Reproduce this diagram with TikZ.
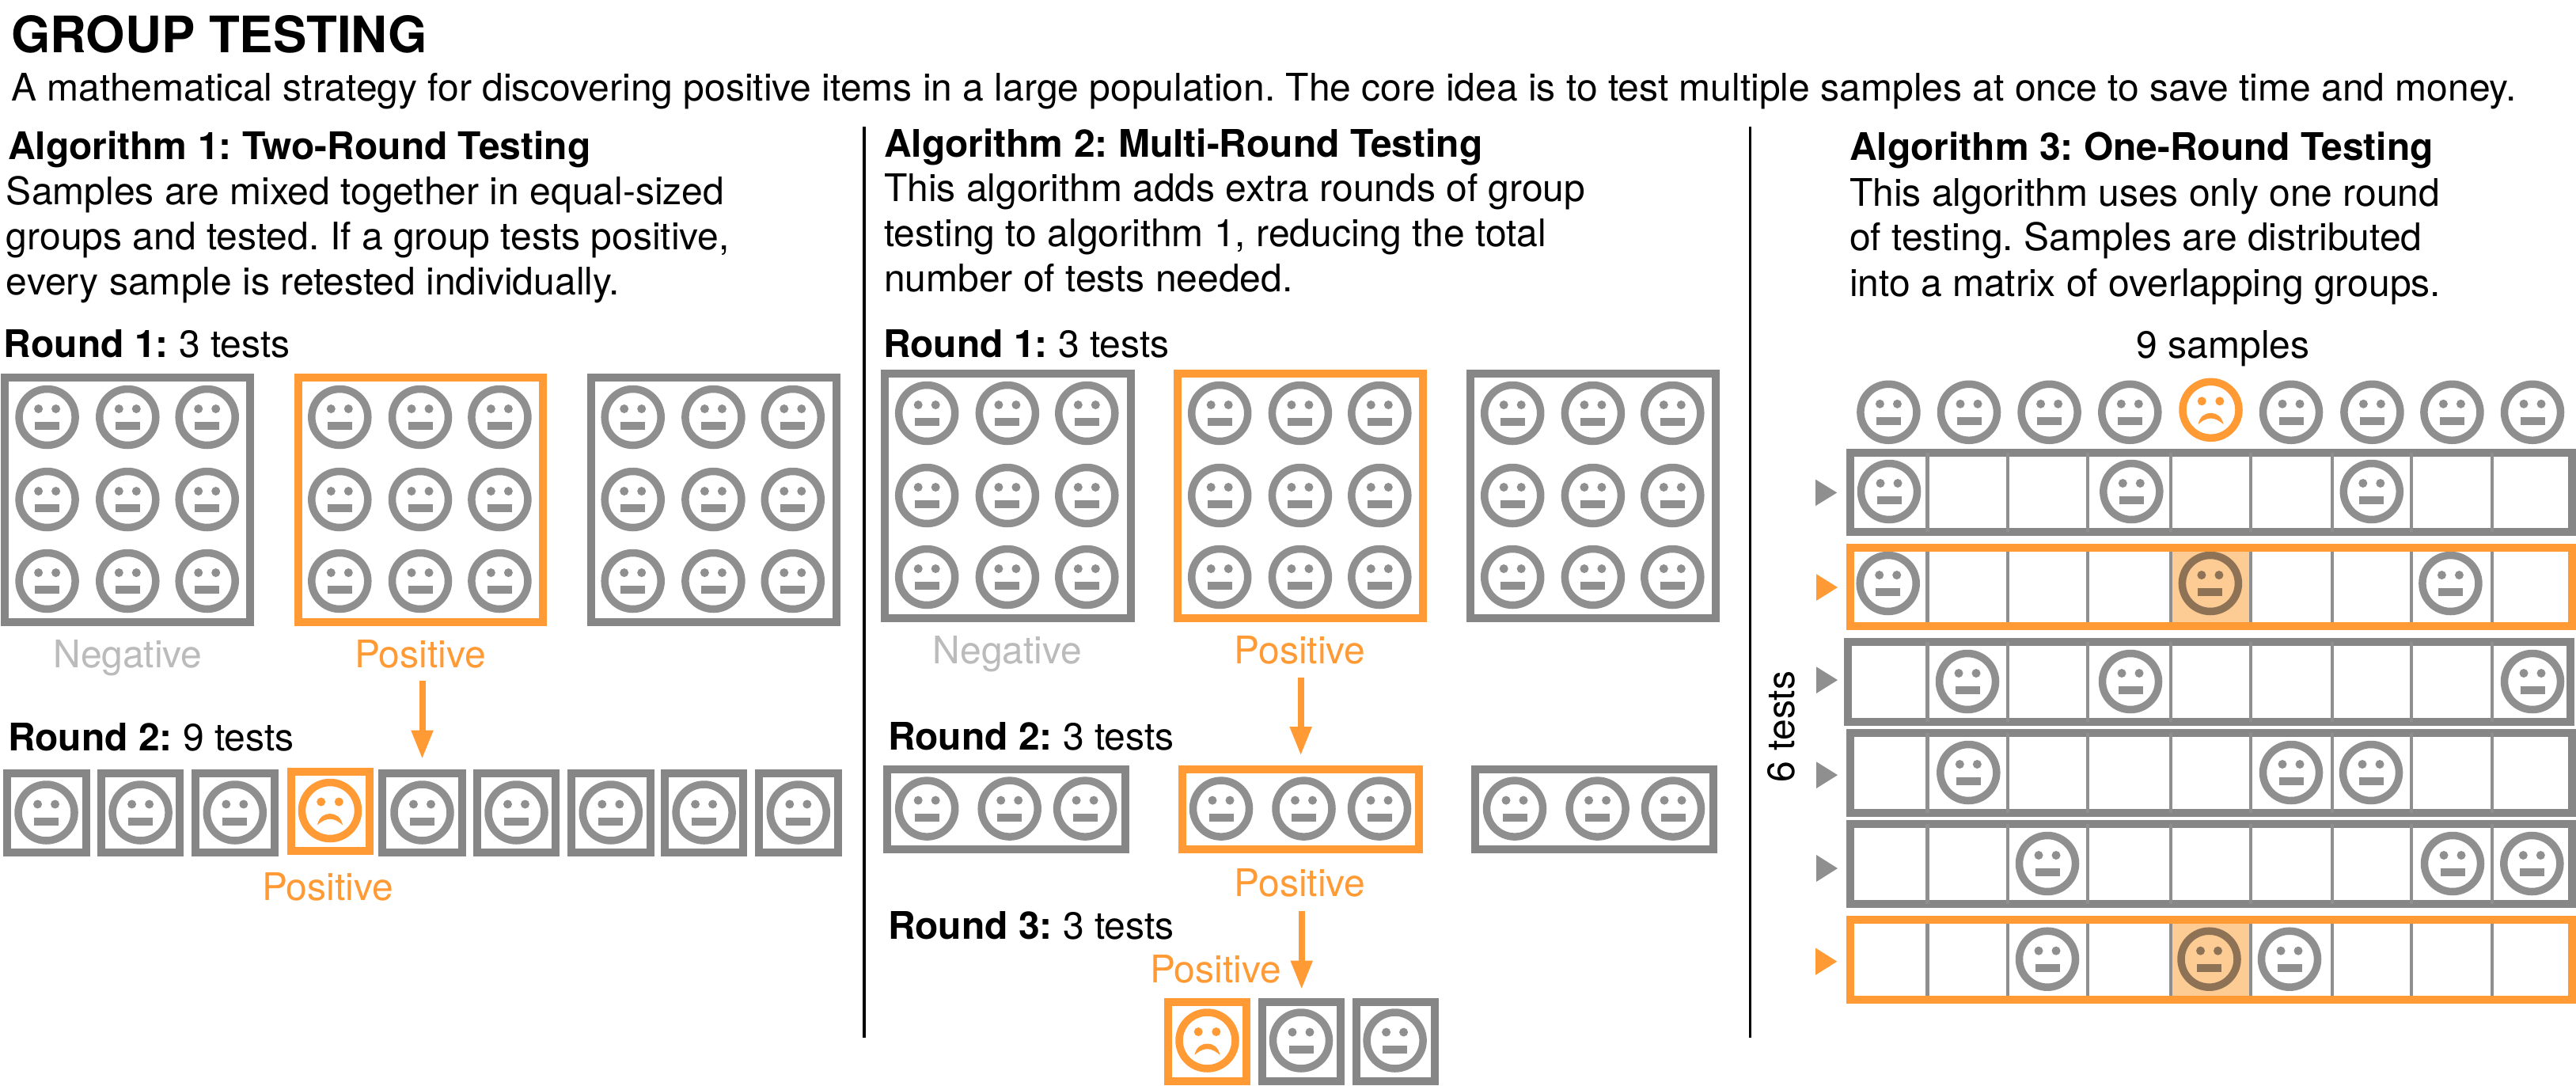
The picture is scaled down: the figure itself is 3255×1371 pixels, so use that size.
\documentclass[tikz,border=0pt]{standalone}
\usepackage{fontspec}
\setmainfont{TeX Gyre Heros}
\usetikzlibrary{arrows.meta}
\definecolor{fgray}{HTML}{8F8F8F}
\definecolor{boxgray}{HTML}{868686}
\definecolor{forange}{HTML}{FF9A35}
\definecolor{fdark}{HTML}{8E7255}
\definecolor{cellor}{HTML}{FDCB94}
\definecolor{neglabel}{HTML}{BBBBBB}
\frenchspacing
\tikzset{
  txt/.style={anchor=base west,inner sep=0pt,outer sep=0pt,font=\fontsize{48}{57}\selectfont},
  mid/.style={anchor=base,inner sep=0pt,outer sep=0pt,font=\fontsize{48}{57}\selectfont},
  frm/.style={draw=#1,line width=10pt,shape=rectangle,inner sep=0pt,fill=white},
  arr/.style={forange,line width=8pt,-{Triangle[length=36.5pt,width=26pt]}},
  rule/.style={black,line width=3.2pt},
  cellrule/.style={fgray,line width=4.5pt}
}
% name, colour, left, top, right, bottom (outer edges)
\newcommand{\fr}[6]{\node[frm=#2,minimum width={(#5-#3-10)*1pt},minimum height={(#6-#4-10)*1pt}] (#1) at ({(#3+#5)/2},{(#4+#6)/2}) {};}
\newcommand{\faceN}[3][fgray]{\begin{scope}[shift={(#2,#3)}]
  \draw[#1,line width=9.5pt] (0,0) circle[radius=35.5];
  \fill[#1] (-11,-10.5) circle[radius=5.5] (11,-10.5) circle[radius=5.5];
  \fill[#1] (-15.5,6.3) rectangle (15.5,16.3);
\end{scope}}
\newcommand{\faceS}[2]{\begin{scope}[shift={(#1,#2)}]
  \draw[forange,line width=9.5pt] (0,0) circle[radius=35.5];
  \fill[forange] (-11.3,-11) circle[radius=5.5] (11.3,-11) circle[radius=5.5];
  \fill[forange] (-16,18.3) .. controls (-14,8) and (-7,4) .. (0,4) .. controls (7,4) and (14,8) .. (16,18.3) .. controls (10,13) and (5,10.7) .. (0,10.7) .. controls (-5,10.7) and (-10,13) .. cycle;
\end{scope}}
% left edge of a 9-face frame, top edge
\newcommand{\nine}[2]{\foreach \fx in {58.2,159.9,260.3} \foreach \fy in {55,159,262} {\faceN{#1+\fx}{#2+\fy}}}
\newcommand{\trg}[4]{\fill[#1] (#2,#3) -- (#2+27,{(#3+#4)/2}) -- (#2,#4) -- cycle;}
\newcommand{\dividers}[2]{\foreach \dx in {2435.5,2537,2638,2743,2844,2947,3047.2,3148.9} {\draw[cellrule] (\dx,#1) -- (\dx,#2);}}
\begin{document}
\begin{tikzpicture}[x=1pt,y=-1pt]
\useasboundingbox (0,0) rectangle (3255,1371);
\fill[white] (0,0) rectangle (3255,1371);
% header
\node[txt,font=\fontsize{63.5}{70}\selectfont\bfseries] (title) at (14,66) {GROUP TESTING};
\node[txt] (subtitle) at (14,127.5) {A mathematical strategy for discovering positive items in a large population. The core idea is to test multiple samples at once to save time and money.};
% separators
\coordinate (s1a) at (1092,160); \coordinate (s1b) at (1092,1311);
\coordinate (s2a) at (2211.4,160); \coordinate (s2b) at (2211.4,1311);
\draw[rule] (s1a) -- (s1b);
\draw[rule] (s2a) -- (s2b);
% ---------- Algorithm 1
\node[txt,font=\fontsize{48}{57}\selectfont\bfseries] (h1) at (10,201) {Algorithm 1: Two-Round Testing};
\node[txt] (b1a) at (8,258) {Samples are mixed together in equal-sized};
\node[txt] (b1b) at (8,315) {groups and tested. If a group tests positive,};
\node[txt] (b1c) at (8,372) {every sample is retested individually.};
\node[txt] (r11) at (5,451) {\bfseries Round 1: \mdseries 3 tests};
\fr{a1f1}{boxgray}{1.4}{472}{321.4}{791}
\fr{a1f2}{forange}{372}{472}{691}{791}
\fr{a1f3}{boxgray}{741.5}{472}{1061.5}{791}
\nine{1.4}{472}
\nine{371.1}{472}
\nine{741.5}{472}
\node[mid,neglabel] (a1neg) at (161.5,843) {Negative};
\node[mid,forange] (a1pos) at (531,843) {Positive};
\node[txt] (r12) at (10,948) {\bfseries Round 2: \mdseries 9 tests};
\fr{a1b1}{boxgray}{3.5}{971.5}{113.6}{1081.5}
\fr{a1b2}{boxgray}{122.8}{971.5}{232.4}{1081.5}
\fr{a1b3}{boxgray}{242}{971.5}{351.6}{1081.5}
\fr{a1b4}{forange}{362.7}{970}{472}{1080}
\fr{a1b5}{boxgray}{478.4}{971.5}{588.6}{1081.5}
\fr{a1b6}{boxgray}{597.7}{971.5}{707.3}{1081.5}
\fr{a1b7}{boxgray}{717}{971.5}{826.6}{1081.5}
\fr{a1b8}{boxgray}{834.8}{971.5}{944.4}{1081.5}
\fr{a1b9}{boxgray}{954}{971.5}{1063.6}{1081.5}
\foreach \n in {a1b1,a1b2,a1b3,a1b5,a1b6,a1b7,a1b8,a1b9} {\path (\n.center) coordinate (cc); \begin{scope}[shift={(cc)}]\faceN{0}{0}\end{scope}}
\faceS{417}{1024}
\draw[arr,shorten <=16pt,shorten >=12.5pt] (a1b5.north |- a1pos.south) -- (a1b5.north);
\node[mid,forange] (a1pos2) at (414,1137) {Positive};
% ---------- Algorithm 2
\node[txt,font=\fontsize{48}{57}\selectfont\bfseries] (h2) at (1117,198) {Algorithm 2: Multi-Round Testing};
\node[txt] (b2a) at (1117,254.5) {This algorithm adds extra rounds of group};
\node[txt] (b2b) at (1117,311) {testing to algorithm 1, reducing the total};
\node[txt] (b2c) at (1117,368) {number of tests needed.};
\node[txt] (r21) at (1116,451) {\bfseries Round 1: \mdseries 3 tests};
\fr{a2f1}{boxgray}{1113}{467}{1433.6}{786.4}
\fr{a2f2}{forange}{1483.4}{467}{1803.2}{786.4}
\fr{a2f3}{boxgray}{1853}{467}{2173}{786.4}
\nine{1113}{467}
\nine{1483}{467}
\nine{1853}{467}
\node[mid,neglabel] (a2neg) at (1273,838.4) {Negative};
\node[mid,forange] (a2pos) at (1642.6,838.4) {Positive};
\node[txt] (r22) at (1122,947.7) {\bfseries Round 2: \mdseries 3 tests};
\fr{a2g1}{boxgray}{1115.8}{967.3}{1426.5}{1077.8}
\fr{a2g2}{forange}{1489}{967.3}{1798.3}{1077.8}
\fr{a2g3}{boxgray}{1858.7}{967.3}{2169.5}{1077.8}
\foreach \fx in {1171.2,1275.7,1371.1,1543,1647.5,1743,1914,2018.6,2114} {\faceN{\fx}{1021.6}}
\draw[arr,shorten <=17pt,shorten >=12.8pt] (a2g2.north |- a2pos.south) -- (a2g2.north);
\node[mid,forange] (a2pos2) at (1642.6,1132.4) {Positive};
\node[txt] (r23) at (1122,1186) {\bfseries Round 3: \mdseries 3 tests};
\node[mid,forange] (a2pos3) at (1536,1241) {Positive};
\fr{a2c1}{forange}{1470.7}{1260.6}{1580}{1370.5}
\fr{a2c2}{boxgray}{1590}{1260.6}{1699.4}{1370.5}
\fr{a2c3}{boxgray}{1708.5}{1260.6}{1818}{1370.5}
\faceS{1525.5}{1314.5}
\faceN{1644}{1314.5}
\faceN{1762.6}{1314.5}
\draw[arr,shorten <=18pt,shorten >=10.6pt] (a2c2.north |- a2pos2.south) -- (a2c2.north);
% ---------- Algorithm 3
\node[txt,font=\fontsize{48}{57}\selectfont\bfseries] (h3) at (2337,202.7) {Algorithm 3: One-Round Testing};
\node[txt] (b3a) at (2337,260) {This algorithm uses only one round};
\node[txt] (b3b) at (2337,316.7) {of testing. Samples are distributed};
\node[txt] (b3c) at (2337,374) {into a matrix of overlapping groups.};
\node[mid] (samples) at (2809,452.7) {9 samples};
\foreach \fx in {2386.4,2488,2589.6,2691.3,2895,2997.4,3098.4,3200} {\faceN{\fx}{520.8}}
\faceS{2793.5}{517.8}
\node[mid,rotate=90] (sixtests) at (2267,918) {6 tests};
% rows
\fr{row1}{boxgray}{2332.6}{566.8}{3255}{676.6}
\dividers{571.8}{671.6}
\foreach \fx in {2387,2693.3,2996.8} {\faceN{\fx}{621}}
\trg{fgray}{2294.2}{605.8}{639}
\fr{row2}{forange}{2332.6}{686.5}{3255}{796.4}
\fill[cellor] (2745,696.5) rectangle (2842.7,786.4);
\dividers{691.5}{791.4}
\foreach \fx in {2385.7,3096.4} {\faceN{\fx}{737}}
\faceN[fdark]{2792.9}{737}
\trg{forange}{2295}{725.2}{758.9}
\fr{row3}{boxgray}{2329.9}{806}{3253}{916.7}
\dividers{811}{911.7}
\foreach \fx in {2486,2692,3200} {\faceN{\fx}{861}}
\trg{fgray}{2295}{842.3}{876}
\fr{row4}{boxgray}{2332.6}{921.3}{3255}{1031.7}
\dividers{926.3}{1026.7}
\foreach \fx in {2487.3,2895,2996} {\faceN{\fx}{976}}
\trg{fgray}{2295}{962.3}{996}
\fr{row5}{boxgray}{2332.6}{1036.3}{3255}{1146.7}
\dividers{1041.3}{1141.7}
\foreach \fx in {2587,3099,3199.3} {\faceN{\fx}{1091}}
\trg{fgray}{2295}{1080}{1114}
\fr{row6}{forange}{2332.6}{1157.3}{3255}{1267.7}
\fill[cellor] (2745,1167.3) rectangle (2842.7,1257.7);
\dividers{1162.3}{1262.7}
\foreach \fx in {2587,2893} {\faceN{\fx}{1211.7}}
\faceN[fdark]{2791.5}{1211.7}
\trg{forange}{2294.2}{1197.7}{1231.7}
% orange borders back on top of the cell rules
\draw[forange,line width=10pt] (2337.6,691.5) rectangle (3250,791.4);
\draw[forange,line width=10pt] (2337.6,1162.3) rectangle (3250,1262.7);
\end{tikzpicture}
\end{document}
